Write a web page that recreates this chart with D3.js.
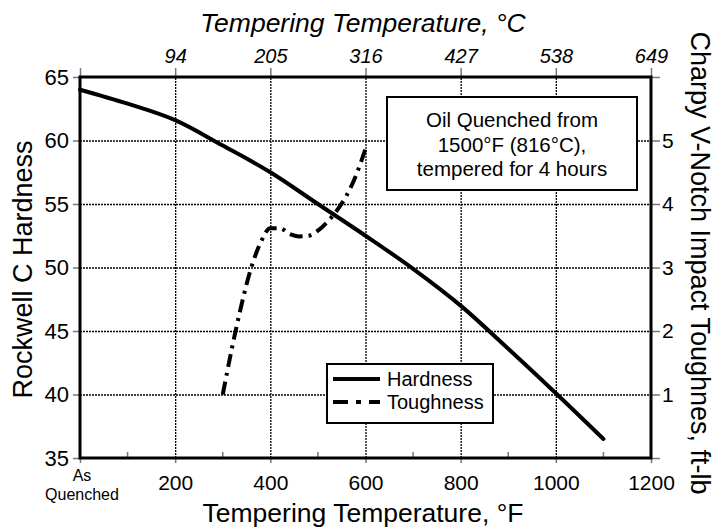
<!DOCTYPE html>
<html>
<head>
<meta charset="utf-8">
<script src="https://cdn.jsdelivr.net/npm/d3@7"></script>
<style>
  body { margin: 0; background: #fff; }
  svg { display: block; font-family: "Liberation Sans", Arial, sans-serif; }
</style>
</head>
<body>
<div id="chart"></div>
<script>
"use strict";

var width = 714;
var height = 527;
var margin = { "top": 77, "bottom": 69, "left": 80, "right": 63 };
var innerW = width - margin.left - margin.right;
var innerH = height - margin.top - margin.bottom;

// tempering temperature (F) vs Rockwell C hardness
var hardTemp = [0, 100, 200, 300, 400, 500, 600, 700, 800, 900, 1000, 1100];
var hardValue = [64, 62.9, 61.6, 59.6, 57.5, 55.0, 52.5, 49.9, 47.0, 43.6, 40.1, 36.5];

// tempering temperature (F) vs Charpy impact toughness (ft-lb)
var toughTemp = [300, 327, 360, 380, 400, 420, 440, 460, 480, 500, 520, 540, 560, 580, 600];
var toughValue = [1.0, 2.0, 3.0, 3.4, 3.62, 3.62, 3.53, 3.49, 3.5, 3.58, 3.72, 3.9, 4.13, 4.45, 4.87];

var fTicks = [0, 200, 400, 600, 800, 1000, 1200];
var fMinorTicks = [100, 300, 500, 700, 900, 1100];
var cLabels = ["", "94", "205", "316", "427", "538", "649"];
var hrcTicks = [35, 40, 45, 50, 55, 60, 65];
var toughTicks = [0, 1, 2, 3, 4, 5, 6];

var noteLines = ["Oil Quenched from", "1500\u00b0F (816\u00b0C),", "tempered for 4 hours"];

var x = d3.scaleLinear().domain([0, 1200]).range([0, innerW]);
var y = d3.scaleLinear().domain([35, 65]).range([innerH, 0]);
var y2 = d3.scaleLinear().domain([0, 6]).range([innerH, 0]);

var svg = d3.select("#chart").append("svg").attr("width", width).attr("height", height);
var canvas = svg.append("g").attr("transform", "translate(" + margin.left + "," + margin.top + ")");

// dotted grid, drawn with axes stretched across the plot
var gridX = canvas.append("g").attr("transform", "translate(0," + innerH + ")")
  .call(d3.axisBottom(x).tickValues(fTicks.slice(1, -1)).tickSize(-innerH).tickFormat(""));
var gridY = canvas.append("g")
  .call(d3.axisLeft(y).tickValues(hrcTicks.slice(1, -1)).tickSize(-innerW).tickFormat(""));
[gridX, gridY].forEach(function (g) {
  g.select(".domain").remove();
  g.selectAll(".tick line").attr("stroke", "#000").attr("stroke-width", 1.3)
    .attr("stroke-dasharray", "2,1");
});

// axes
function styleAxis(g, size) {
  g.select(".domain").remove();
  g.selectAll(".tick line").attr("stroke", "#777").attr("stroke-width", 1.5);
  g.selectAll(".tick text").attr("fill", "#000").style("font-size", size + "px");
}

var gBottom = canvas.append("g").attr("transform", "translate(0," + innerH + ")")
  .call(d3.axisBottom(x).tickValues(fTicks).tickSize(5).tickPadding(8).tickFormat(function (d) { return d === 0 ? "" : d; }));
styleAxis(gBottom, 21);
gBottom.selectAll(".tick text").attr("dy", "0.9em");
gBottom.selectAll(".minor").data(fMinorTicks).enter().append("line")
  .attr("x1", function (d) { return x(d); }).attr("x2", function (d) { return x(d); })
  .attr("y1", 0).attr("y2", -6).attr("stroke", "#777").attr("stroke-width", 1.5);
gBottom.append("text").attr("fill", "#000").attr("text-anchor", "middle").style("font-size", "16px")
  .attr("x", x(0) + 2).attr("y", 23).text("As");
gBottom.append("text").attr("fill", "#000").attr("text-anchor", "middle").style("font-size", "16px")
  .attr("x", x(0) + 2).attr("y", 42).text("Quenched");

var gTop = canvas.append("g")
  .call(d3.axisTop(x).tickValues(fTicks).tickSize(9).tickPadding(5).tickFormat(function (d, i) { return cLabels[i]; }));
styleAxis(gTop, 20);
gTop.selectAll(".tick text").style("font-style", "italic");

var gLeft = canvas.append("g")
  .call(d3.axisLeft(y).tickValues(hrcTicks).tickSize(7).tickPadding(4));
styleAxis(gLeft, 22);

var gRight = canvas.append("g").attr("transform", "translate(" + innerW + ",0)")
  .call(d3.axisRight(y2).tickValues(toughTicks).tickSize(9).tickPadding(2).tickFormat(function (d) { return d === 0 || d === 6 ? "" : d; }));
styleAxis(gRight, 21);

// frame
canvas.append("rect").attr("width", innerW).attr("height", innerH)
  .attr("fill", "none").attr("stroke", "#000").attr("stroke-width", 3);

// curves
var hardLine = d3.line().curve(d3.curveMonotoneX)
  .x(function (d, i) { return x(hardTemp[i]); })
  .y(function (d) { return y(d); });
canvas.append("path").datum(hardValue).attr("d", hardLine)
  .attr("fill", "none").attr("stroke", "#000").attr("stroke-width", 4).attr("stroke-linecap", "round");

var toughLine = d3.line().curve(d3.curveMonotoneX)
  .x(function (d, i) { return x(toughTemp[i]); })
  .y(function (d) { return y2(d); });
canvas.append("path").datum(toughValue).attr("d", toughLine)
  .attr("fill", "none").attr("stroke", "#000").attr("stroke-width", 4)
  .attr("stroke-dasharray", "13,6,3,6");

// note box
var note = canvas.append("g").attr("transform", "translate(" + (387 - margin.left) + "," + (97 - margin.top) + ")");
note.append("rect").attr("width", 250).attr("height", 93)
  .attr("fill", "#fff").attr("stroke", "#000").attr("stroke-width", 2);
note.selectAll("text").data(noteLines).enter().append("text")
  .attr("x", 125).attr("y", function (d, i) { return 30 + i * 24.7; })
  .attr("text-anchor", "middle").style("font-size", "20.5px").text(function (d) { return d; });

// legend
var legend = canvas.append("g").attr("transform", "translate(" + (327 - margin.left) + "," + (364 - margin.top) + ")");
legend.append("rect").attr("width", 166).attr("height", 59)
  .attr("fill", "#fff").attr("stroke", "#000").attr("stroke-width", 2);
var legendItems = [
  { "name": "Hardness", "dash": null },
  { "name": "Toughness", "dash": "15,8,5,8" }
];
var li = legend.selectAll(".li").data(legendItems).enter().append("g")
  .attr("transform", function (d, i) { return "translate(0," + (15 + i * 23) + ")"; });
li.append("line").attr("x1", 6).attr("x2", 53).attr("stroke", "#000").attr("stroke-width", 4)
  .attr("stroke-dasharray", function (d) { return d.dash; });
li.append("text").attr("x", 60).attr("dy", "0.35em").style("font-size", "20px").text(function (d) { return d.name; });

// axis titles
svg.append("text").attr("x", 363).attr("y", 32).attr("text-anchor", "middle")
  .style("font-size", "26.5px").style("font-style", "italic").text("Tempering Temperature, \u00b0C");
svg.append("text").attr("x", 363).attr("y", 522).attr("text-anchor", "middle")
  .style("font-size", "26.5px").text("Tempering Temperature, \u00b0F");
svg.append("text").attr("transform", "translate(32," + (margin.top + innerH / 2 + 2) + ") rotate(-90)")
  .attr("text-anchor", "middle").style("font-size", "27px").text("Rockwell C Hardness");
svg.append("text").attr("transform", "translate(691,263) rotate(90)")
  .attr("text-anchor", "middle").style("font-size", "27px").text("Charpy V-Notch Impact Toughnes, ft-lb");
</script>
</body>
</html>
